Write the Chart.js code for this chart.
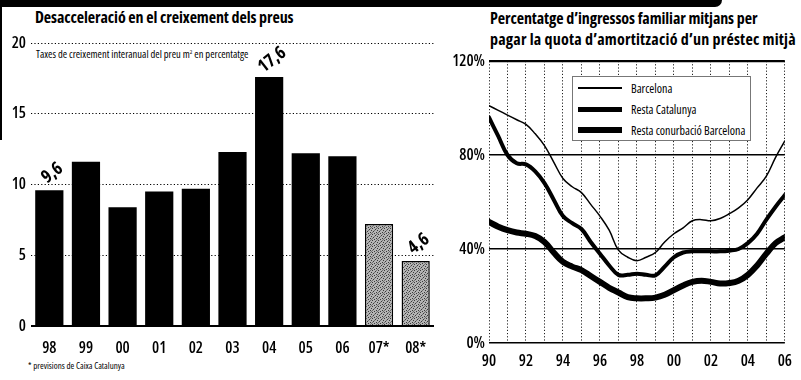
<!DOCTYPE html>
<html lang="ca">
<head>
<meta charset="utf-8">
<script src="https://cdn.jsdelivr.net/npm/chart.js@4/dist/chart.umd.min.js"></script>
<style>
  html, body { margin: 0; padding: 0; background: #fff; }
  body { width: 801px; height: 380px; position: relative; overflow: hidden;
         font-family: 'Open Sans', 'DejaVu Sans', sans-serif; font-stretch: condensed; color: #000; }
  .abs { position: absolute; }
  #band { left: 0; top: 0; width: 722px; height: 7px; background: #000; border-bottom-right-radius: 7px; }
  #edge { left: 0; top: 0; width: 2px; height: 140px; background: #000; }
  .title { font-weight: bold; font-size: 16px; line-height: 20px; white-space: nowrap; letter-spacing: -0.1px; }
  #subtitle { left: 36px; top: 47px; font-size: 10.5px; white-space: nowrap; }
  #note { left: 28px; top: 359px; font-size: 9px; white-space: nowrap; }
  #legend { left: 572px; top: 76px; width: 179px; height: 65px; background: #fff;
            border: 1px solid #777; box-sizing: border-box; font-size: 12px; }
  .row { position: absolute; left: 5px; height: 16px; display: flex; align-items: center; white-space: nowrap; }
  .swatch { width: 44px; background: #000; margin-right: 9px; }
</style>
</head>
<body>
<div id="band" class="abs"></div>
<div id="edge" class="abs"></div>

<div class="abs title" style="left:35px; top:7px;">Desacceleració en el creixement dels preus</div>
<div id="subtitle" class="abs">Taxes de creixement interanual del preu m<sup style="font-size:6px">2</sup> en percentatge</div>
<div id="note" class="abs">* previsions de Caixa Catalunya</div>

<div class="abs title" style="left:490px; top:8px;">Percentatge d’ingressos familiar mitjans per</div>
<div class="abs title" style="left:490px; top:29px; letter-spacing: 0.2px;">pagar la quota d’amortització d’un préstec mitjà</div>

<canvas id="bars" class="abs" style="left:0; top:0;" width="440" height="380"></canvas>
<canvas id="lines" class="abs" style="left:440px; top:0;" width="361" height="380"></canvas>

<div id="legend" class="abs">
  <div class="row" style="top:3px;"><div class="swatch" style="height:1.5px;"></div>Barcelona</div>
  <div class="row" style="top:24px;"><div class="swatch" style="height:5px;"></div>Resta Catalunya</div>
  <div class="row" style="top:45px;"><div class="swatch" style="height:6px;"></div>Resta conurbació Barcelona</div>
</div>

<script>
// ---- Price growth (left) ----
const years = ['98', '99', '00', '01', '02', '03', '04', '05', '06', '07*', '08*'];
const growth = [9.6, 11.6, 8.4, 9.5, 9.7, 12.3, 17.6, 12.2, 12.0, 7.2, 4.6];
const forecast = [false, false, false, false, false, false, false, false, false, true, true];
const annotated = ['98', '04', '08*'];
const growthTicks = [0, 5, 10, 15, 20];

// ---- Mortgage effort (right), half-year points ----
const periods = [1990, 1990.5, 1991, 1991.5, 1992, 1992.5, 1993, 1993.5, 1994, 1994.5,
                 1995, 1995.5, 1996, 1996.5, 1997, 1997.5, 1998, 1998.5, 1999, 1999.5,
                 2000, 2000.5, 2001, 2001.5, 2002, 2002.5, 2003, 2003.5, 2004, 2004.5,
                 2005, 2005.5, 2006];
const barcelona = [101, 99, 97, 95, 93, 89, 84, 77, 70, 66.5,
                   64, 59, 54, 48, 39.5, 36.5, 35, 36.5, 38.5, 43,
                   46.5, 49, 52, 52.5, 52, 53, 55, 57.5, 61, 66,
                   71, 79, 86];
const restaCatalunya = [96, 88, 80, 76.5, 76, 73, 68, 61, 54, 51,
                        48.5, 43, 38, 33, 29, 29, 29.5, 29, 28.8, 32.5,
                        36.5, 38.5, 39, 39, 39, 39, 39.3, 40, 42.5, 46.5,
                        52.5, 58, 63];
const restaConurbacio = [51.5, 49.5, 48, 47, 46.5, 45.5, 43, 38.5, 34.5, 32.5,
                         31, 28.5, 26, 23.5, 21.5, 19.5, 19, 19, 19.3, 20.5,
                         22.5, 24.5, 26, 26.5, 26, 25.3, 25.5, 26.5, 29, 33,
                         38, 42.5, 45];
const effortTicks = [0, 40, 80, 120];

const FONT = "'Open Sans', 'DejaVu Sans', sans-serif";
// font-stretch travels in the weight slot of the canvas font string
const TICK_FONT = { family: FONT, size: 16, weight: 'condensed 600' };
Chart.defaults.font.family = FONT;
Chart.defaults.color = '#000';
Chart.defaults.animation = false;

// Stippled grey fill for the forecast years
function stipple() {
  const c = document.createElement('canvas');
  c.width = 6; c.height = 6;
  const g = c.getContext('2d');
  g.fillStyle = '#b4b4b4';
  g.fillRect(0, 0, 6, 6);
  g.fillStyle = '#3a3a3a';
  [[0,0],[3,1],[1,3],[4,4],[2,5],[5,2]].forEach(([x, y]) => g.fillRect(x, y, 1, 1));
  g.fillStyle = '#707070';
  [[2,2],[5,5],[0,4],[4,0]].forEach(([x, y]) => g.fillRect(x, y, 1, 1));
  return g.createPattern(c, 'repeat');
}

// Rotated value labels above selected bars
const valueLabels = {
  id: 'valueLabels',
  afterDatasetsDraw(chart) {
    const ctx = chart.ctx;
    const meta = chart.getDatasetMeta(0);
    ctx.save();
    ctx.font = "condensed bold 18px " + FONT;
    ctx.fillStyle = '#000';
    ctx.textAlign = 'center';
    ctx.textBaseline = 'middle';
    annotated.forEach(cat => {
      const i = years.indexOf(cat);
      const bar = meta.data[i];
      const text = growth[i].toFixed(1).replace('.', ',');
      ctx.save();
      ctx.translate(bar.x + 3, bar.y - 17);
      ctx.rotate(-38 * Math.PI / 180);
      ctx.fillText(text, 0, 0);
      ctx.restore();
    });
    ctx.restore();
  }
};

const pattern = stipple();
new Chart(document.getElementById('bars'), {
  type: 'bar',
  data: {
    labels: years,
    datasets: [{
      data: growth,
      backgroundColor: forecast.map(f => f ? pattern : '#000'),
      borderColor: '#000',
      borderWidth: forecast.map(f => f ? 1.5 : 0),
      categoryPercentage: 1,
      barPercentage: 0.77
    }]
  },
  options: {
    responsive: false,
    layout: { padding: { top: 43, right: 6, left: 0, bottom: 0 } },
    plugins: { legend: { display: false }, tooltip: { enabled: false } },
    scales: {
      x: {
        grid: { display: false },
        border: { display: false },
        ticks: { font: TICK_FONT, padding: 5, maxRotation: 0 },
        afterFit: s => { s.height = 54; }
      },
      y: {
        min: 0, max: 20,
        afterBuildTicks: s => { s.ticks = growthTicks.map(v => ({ value: v })); },
        afterFit: s => { s.width = 31; },
        border: { display: false, dash: c => (c.tick && c.tick.value === 0) ? [] : [1.2, 2.2] },
        grid: {
          drawTicks: false,
          color: '#000',
          lineWidth: c => (c.tick && c.tick.value === 0) ? 2 : 1
        },
        ticks: { font: TICK_FONT, padding: 5 }
      }
    }
  },
  plugins: [valueLabels]
});

const pts = arr => periods.map((p, i) => ({ x: p, y: arr[i] }));
new Chart(document.getElementById('lines'), {
  type: 'line',
  data: {
    datasets: [
      { label: 'Barcelona', data: pts(barcelona), borderColor: '#000', borderWidth: 1.5 },
      { label: 'Resta Catalunya', data: pts(restaCatalunya), borderColor: '#000', borderWidth: 4 },
      { label: 'Resta conurbació Barcelona', data: pts(restaConurbacio), borderColor: '#000', borderWidth: 6 }
    ]
  },
  options: {
    responsive: false,
    layout: { padding: { top: 61, right: 9, left: 0, bottom: 0 } },
    elements: { point: { radius: 0 }, line: { tension: 0.4, borderCapStyle: 'round' } },
    plugins: { legend: { display: false }, tooltip: { enabled: false } },
    scales: {
      x: {
        type: 'linear', min: 1990, max: 2006,
        afterBuildTicks: s => {
          const t = [];
          for (let y = 1990; y <= 2006; y++) t.push({ value: y });
          s.ticks = t;
        },
        afterFit: s => { s.height = 37; },
        border: { display: false, dash: [1.2, 2] },
        grid: { drawTicks: false, color: '#222', lineWidth: 1 },
        ticks: {
          font: TICK_FONT, padding: 9, maxRotation: 0, autoSkip: false,
          callback: v => (v % 2 === 0) ? String(v).slice(2) : ''
        }
      },
      y: {
        min: 0, max: 120,
        afterBuildTicks: s => { s.ticks = effortTicks.map(v => ({ value: v })); },
        afterFit: s => { s.width = 49; },
        border: { display: false },
        grid: {
          drawTicks: false, color: '#000',
          lineWidth: c => (c.tick && c.tick.value === 120) ? 2.2 : 1.6
        },
        ticks: { font: TICK_FONT, padding: 4, callback: v => v + '%' }
      }
    }
  }
});
</script>
</body>
</html>
